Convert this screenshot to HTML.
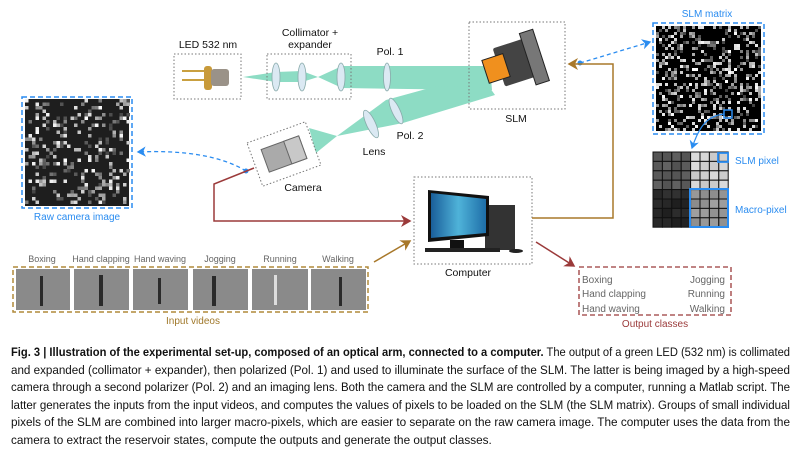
<!DOCTYPE html>
<html><head><meta charset="utf-8"><style>
body{margin:0;background:#fff;width:800px;height:445px;overflow:hidden;position:relative;font-family:"Liberation Sans",sans-serif}
svg{position:absolute;left:0;top:0}
.cap{position:absolute;left:11px;width:779px;font-size:12.2px;line-height:17.6px;color:#111;top:344px;overflow:hidden}
.cap div{white-space:nowrap;height:17.6px}
.cap span{display:inline-block;transform-origin:0 0}
</style></head><body>
<svg width="800" height="340" viewBox="0 0 800 340" font-family="Liberation Sans, sans-serif">
<defs>
<marker id="ab" markerWidth="8" markerHeight="8" refX="6" refY="4" orient="auto"><path d="M0,0 L7,4 L0,8 L2,4z" fill="#2a8cf0"/></marker>
<marker id="ar" markerWidth="8" markerHeight="8" refX="6" refY="4" orient="auto"><path d="M0,0 L7,4 L0,8 L2,4z" fill="#9b3a3a"/></marker>
<marker id="ag" markerWidth="8" markerHeight="8" refX="6" refY="4" orient="auto"><path d="M0,0 L7,4 L0,8 L2,4z" fill="#a8782a"/></marker>
<linearGradient id="scr" x1="0" x2="1"><stop offset="0" stop-color="#1a5e9a"/><stop offset=".5" stop-color="#4fb3d9"/><stop offset="1" stop-color="#1e6ea8"/></linearGradient>
</defs>
<g fill="#8ddcc4">
<polygon points="243,77 276,72 302,71 318,77 302,82 276,82"/>
<polygon points="318,77 342,66 490,66 492,90 480,90 342,88"/>
<polygon points="437,86 490,88 495,95 403,123 337,136 386,100"/>
<polygon points="337,136 309,128 316,153"/>
</g>
<g fill="#dbe9f3" stroke="#8aa" stroke-width="0.8">
<ellipse cx="276" cy="77" rx="4" ry="14"/><ellipse cx="302" cy="77" rx="4" ry="14"/><ellipse cx="341" cy="77" rx="4" ry="14"/>
<ellipse cx="387" cy="77" rx="3.5" ry="14"/>
<ellipse cx="396" cy="111" rx="4" ry="14" transform="rotate(-25 396 111)"/>
<ellipse cx="371" cy="124" rx="4.5" ry="15" transform="rotate(-25 371 124)"/>
</g>
<g fill="none" stroke="#777" stroke-dasharray="1.5,2" stroke-width="1">
<rect x="174" y="54" width="67" height="45"/>
<rect x="267" y="54" width="84" height="45"/>
<rect x="469" y="22" width="96" height="87"/>
<rect x="414" y="177" width="118" height="87"/>
<rect x="253" y="131" width="62" height="46" transform="rotate(-20 284 154)"/>
</g>
<rect x="182" y="70" width="22" height="2" fill="#c9a040"/><rect x="182" y="79" width="22" height="2" fill="#c9a040"/>
<rect x="204" y="66" width="8" height="24" rx="3" fill="#c89a3a"/>
<rect x="211" y="69" width="18" height="17" rx="3" fill="#9a9288"/>
<g transform="rotate(-18 516 62)">
<rect x="498" y="42" width="36" height="40" fill="#444" rx="2"/>
<rect x="528" y="36" width="14" height="54" fill="#777" stroke="#222"/>
<rect x="484" y="50" width="22" height="24" fill="#f0901e" stroke="#222"/>
</g>
<g transform="rotate(-20 284 154)"><rect x="264" y="142" width="40" height="24" fill="#aaa" stroke="#666"/><rect x="288" y="142" width="16" height="24" fill="#c8c8c8" stroke="#666"/></g>
<rect x="485" y="205" width="30" height="45" fill="#333"/>
<polygon points="428,190 489,196 489,236 428,242" fill="#111"/>
<polygon points="431,193 486,199 486,233 431,238" fill="url(#scr)"/>
<rect x="450" y="240" width="14" height="8" fill="#111"/><rect x="425" y="248" width="75" height="4" fill="#222"/><ellipse cx="516" cy="251" rx="7" ry="2" fill="#222"/>
<g font-size="10.5" fill="#111" text-anchor="middle">
<text x="208" y="48">LED 532 nm</text>
<text x="310" y="36">Collimator +</text><text x="310" y="48">expander</text>
<text x="390" y="55">Pol. 1</text><text x="410" y="139">Pol. 2</text><text x="374" y="155">Lens</text>
<text x="516" y="122">SLM</text><text x="303" y="191">Camera</text><text x="468" y="276">Computer</text>
</g>
<rect x="25" y="99" width="104" height="107" fill="#1e1e1e"/>
<g id="raw"></g>
<rect x="22" y="97" width="110" height="111" fill="none" stroke="#2a8cf0" stroke-width="1.5" stroke-dasharray="5,3"/>
<text x="77" y="220" font-size="10" fill="#2a8cf0" text-anchor="middle">Raw camera image</text>
<rect x="656" y="26" width="105" height="105" fill="#000"/>
<g id="slm"></g>
<rect x="653" y="23" width="111" height="111" fill="none" stroke="#2a8cf0" stroke-width="1.5" stroke-dasharray="5,3"/>
<text x="707" y="17" font-size="10" fill="#2a8cf0" text-anchor="middle">SLM matrix</text>
<rect x="724" y="110" width="8" height="8" fill="none" stroke="#2a8cf0" stroke-width="1.5"/>
<path d="M724,114 C705,116 698,130 692,148" fill="none" stroke="#2a8cf0" stroke-width="1.2" marker-end="url(#ab)"/>
<g id="grid"></g>
<rect x="718" y="153" width="10" height="9" fill="none" stroke="#2a8cf0" stroke-width="1.8"/>
<rect x="690" y="189" width="38" height="38" fill="none" stroke="#2a8cf0" stroke-width="2"/>
<text x="735" y="164" font-size="10" fill="#2a8cf0">SLM pixel</text>
<text x="735" y="213" font-size="10" fill="#2a8cf0">Macro-pixel</text>
<path d="M246,171 C220,155 180,150 138,152" fill="none" stroke="#2a8cf0" stroke-width="1.3" stroke-dasharray="4,3" marker-end="url(#ab)"/>
<circle cx="246" cy="171" r="2.5" fill="#2a8cf0"/>
<path d="M580,63 L650,42" fill="none" stroke="#2a8cf0" stroke-width="1.3" stroke-dasharray="4,3" marker-end="url(#ab)"/>
<circle cx="580" cy="63" r="2.5" fill="#2a8cf0"/>
<path d="M532,218 L613,218 L613,64 L569,64" fill="none" stroke="#a8782a" stroke-width="1.5" marker-end="url(#ag)"/>
<path d="M254,168 L214,184 L214,221 L410,221" fill="none" stroke="#9b3a3a" stroke-width="1.5" marker-end="url(#ar)"/>
<path d="M374,262 L410,241" fill="none" stroke="#a8782a" stroke-width="1.5" marker-end="url(#ag)"/>
<path d="M536,242 L574,266" fill="none" stroke="#9b3a3a" stroke-width="1.5" marker-end="url(#ar)"/>
<g fill="#8a8a8a">
<rect x="16" y="269" width="54" height="41"/><rect x="74" y="269" width="55" height="41"/><rect x="133" y="269" width="55" height="41"/>
<rect x="193" y="269" width="55" height="41"/><rect x="252" y="269" width="56" height="41"/><rect x="311" y="269" width="55" height="41"/>
</g>
<g fill="#2a2a2a"><rect x="40" y="276" width="3" height="30"/><rect x="99" y="275" width="4" height="31"/><rect x="158" y="278" width="3" height="26"/><rect x="212" y="276" width="4" height="30"/><rect x="274" y="275" width="3" height="30" fill="#ddd"/><rect x="339" y="277" width="3" height="29"/></g>
<rect x="13" y="267" width="355" height="45" fill="none" stroke="#b08a3a" stroke-width="1.5" stroke-dasharray="5,3"/>
<g font-size="9" fill="#666" text-anchor="middle"><text x="42" y="262">Boxing</text><text x="101" y="262">Hand clapping</text><text x="160" y="262">Hand waving</text><text x="220" y="262">Jogging</text><text x="280" y="262">Running</text><text x="338" y="262">Walking</text></g>
<text x="193" y="324" font-size="10" fill="#a0782a" text-anchor="middle">Input videos</text>
<rect x="579" y="267" width="152" height="48" fill="none" stroke="#9b3a3a" stroke-width="1.3" stroke-dasharray="5,3"/>
<g font-size="10" fill="#666"><text x="582" y="283">Boxing</text><text x="582" y="297">Hand clapping</text><text x="582" y="312">Hand waving</text>
<g text-anchor="end"><text x="725" y="283">Jogging</text><text x="725" y="297">Running</text><text x="725" y="312">Walking</text></g></g>
<text x="655" y="327" font-size="10" fill="#9b3a3a" text-anchor="middle">Output classes</text>
</svg>
<div class="cap">
<div><span class="f"><b>Fig. 3 | Illustration of the experimental set-up, composed of an optical arm, connected to a computer.</b> The output of a green LED (532 nm) is collimated</span></div>
<div><span class="f">and expanded (collimator + expander), then polarized (Pol. 1) and used to illuminate the surface of the SLM. The latter is being imaged by a high-speed</span></div>
<div><span class="f">camera through a second polarizer (Pol. 2) and an imaging lens. Both the camera and the SLM are controlled by a computer, running a Matlab script. The</span></div>
<div><span class="f">latter generates the inputs from the input videos, and computes the values of pixels to be loaded on the SLM (the SLM matrix). Groups of small individual</span></div>
<div><span class="f">pixels of the SLM are combined into larger macro-pixels, which are easier to separate on the raw camera image. The computer uses the data from the</span></div>
<div><span class="l">camera to extract the reservoir states, compute the outputs and generate the output classes.</span></div>
</div>
<script>
var s=7;function r(){s=(s*16807)%2147483647;return s/2147483647;}
function fill(id,x0,y0,n,sz,p,lo){var g=document.getElementById(id),h="";
for(var i=0;i<n;i++)for(var j=0;j<n;j++){if(r()<p){var v=Math.floor(lo+r()*(255-lo));h+='<rect x="'+(x0+i*sz)+'" y="'+(y0+j*sz)+'" width="'+sz+'" height="'+sz+'" fill="rgb('+v+','+v+','+v+')"/>';}}
g.innerHTML=h;}
fill("raw",25,99,30,3.5,0.25,70);
fill("slm",656,26,35,3,0.35,60);
var g=document.getElementById("grid"),h="";
for(var i=0;i<8;i++)for(var j=0;j<8;j++){var c=(i<4&&j<4)?80:(i>=4&&j<4)?200:(i<4)?30:140;c+=Math.floor(r()*20);
h+='<rect x="'+(653+i*9.4)+'" y="'+(152+j*9.4)+'" width="9.4" height="9.4" fill="rgb('+c+','+c+','+c+')" stroke="#111" stroke-width="1"/>';}
g.innerHTML=h;
var sp=document.querySelectorAll(".cap span");var sc=1;
for(var k=0;k<sp.length;k++){if(sp[k].className=="f"){var w=sp[k].getBoundingClientRect().width;sc=779/w;sp[k].style.transform="scaleX("+sc+")";}}
var last=document.querySelector(".cap span.l");last.style.transform="scaleX("+sc+")";
</script>
</body></html>
